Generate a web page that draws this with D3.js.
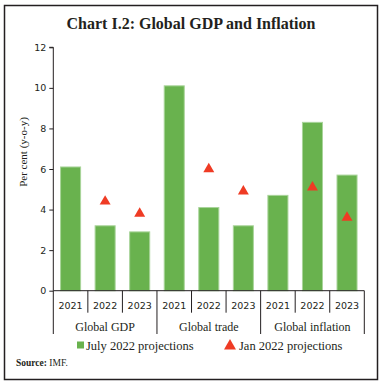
<!DOCTYPE html>
<html><head><meta charset="utf-8">
<script src="https://cdn.jsdelivr.net/npm/d3@7"></script>
<style>html,body{margin:0;padding:0;background:#fff;}svg{display:block;}</style>
</head><body>
<script>
const groups = ["Global GDP", "Global trade", "Global inflation"];
const years = ["2021", "2022", "2023"];
const july2022 = [6.1, 3.2, 2.9, 10.1, 4.1, 3.2, 4.7, 8.3, 5.7];
const jan2022 = [null, 4.4, 3.8, null, 6.0, 4.9, null, 5.1, 3.6];
const yTicks = [0, 2, 4, 6, 8, 10, 12];

const W = 383, H = 384;
const svg = d3.select("body").append("svg").attr("width", W).attr("height", H);
const serif = "'Liberation Serif', 'DejaVu Serif', serif";
const sans = "'DejaVu Sans', Verdana, sans-serif";

svg.append("rect").attr("x", 4.5).attr("y", 5.5).attr("width", 373).attr("height", 374)
  .attr("fill", "none").attr("stroke", "#231f20").attr("stroke-width", 1.5);

svg.append("text").attr("x", 191).attr("y", 29).attr("text-anchor", "middle")
  .attr("font-family", serif).attr("font-weight", "bold").attr("font-size", 16)
  .attr("fill", "#231f20").text("Chart I.2: Global GDP and Inflation");

const x0 = 53.3, x1 = 364.3, yTop = 47.3, yBot = 290.7;
const keys = [];
groups.forEach((g, gi) => years.forEach((yr, yi) => keys.push(gi * 3 + yi)));
const x = d3.scaleBand().domain(keys).range([x0, x1]).paddingInner(0.42).paddingOuter(0.21);
const xb = d3.scaleBand().domain(keys).range([x0, x1]);
const y = d3.scaleLinear().domain([0, 12]).range([yBot, yTop]);

// y axis
const yAxis = svg.append("g").attr("transform", `translate(${x0},0)`)
  .call(d3.axisLeft(y).tickValues(yTicks).tickSize(4).tickPadding(3));
yAxis.select(".domain").attr("stroke", "#231f20").attr("d", `M-4,${yTop}H0V${yBot}`);
yAxis.selectAll(".tick line").attr("stroke", "#231f20");
yAxis.selectAll("text").attr("font-family", sans).attr("font-size", 9.5).attr("fill", "#231f20");

svg.append("text").attr("transform", `translate(27,152) rotate(-90)`)
  .attr("text-anchor", "middle").attr("font-family", serif).attr("font-size", 11)
  .attr("fill", "#231f20").text("Per cent (y-o-y)");

// bars
svg.append("g").selectAll("rect").data(july2022).join("rect")
  .attr("x", (d, i) => x(i)).attr("width", x.bandwidth())
  .attr("y", d => y(d)).attr("height", d => y(0) - y(d))
  .attr("fill", "#69b24e").attr("stroke", "#a9d49a").attr("stroke-width", 1);

// triangles
const tri = d3.symbol().type(d3.symbolTriangle).size(52);
svg.append("g").selectAll("path").data(jan2022.map((v, i) => ({v, i})).filter(d => d.v != null)).join("path")
  .attr("d", tri)
  .attr("transform", d => `translate(${xb(d.i) + xb.bandwidth() / 2},${y(d.v)})`)
  .attr("fill", "#ef3b24");

// x axis baseline
const axisG = svg.append("g").attr("stroke", "#231f20").attr("stroke-width", 1);
axisG.append("line").attr("x1", x0).attr("x2", x1).attr("y1", yBot).attr("y2", yBot);
keys.forEach(i => {
  if (i === 0) return;
  const xx = xb(i);
  const isGroup = i % 3 === 0;
  axisG.append("line").attr("x1", xx).attr("x2", xx).attr("y1", yBot).attr("y2", isGroup ? 334 : 312.7);
});
axisG.append("line").attr("x1", x0).attr("x2", x0).attr("y1", yBot).attr("y2", 334);
axisG.append("line").attr("x1", x1).attr("x2", x1).attr("y1", yBot).attr("y2", 334);

svg.append("g").selectAll("text").data(keys).join("text")
  .attr("x", i => xb(i) + xb.bandwidth() / 2).attr("y", 309)
  .attr("text-anchor", "middle").attr("font-family", sans).attr("font-size", 9.5)
  .attr("fill", "#231f20").text(i => years[i % 3]);

svg.append("g").selectAll("text").data(groups).join("text")
  .attr("x", (g, gi) => xb(gi * 3) + xb.bandwidth() * 1.5).attr("y", 331)
  .attr("text-anchor", "middle").attr("font-family", serif).attr("font-size", 12)
  .attr("fill", "#231f20").text(g => g);

// legend
svg.append("rect").attr("x", 77).attr("y", 341.5).attr("width", 7).attr("height", 7).attr("fill", "#69b24e");
svg.append("text").attr("x", 86).attr("y", 349.5).attr("font-family", serif).attr("font-size", 12.5)
  .attr("fill", "#231f20").text("July 2022 projections");
svg.append("path").attr("d", d3.symbol().type(d3.symbolTriangle).size(62))
  .attr("transform", "translate(230,346)").attr("fill", "#ef3b24");
svg.append("text").attr("x", 239).attr("y", 349.5).attr("font-family", serif).attr("font-size", 12.5)
  .attr("fill", "#231f20").text("Jan 2022 projections");

// source
const src = svg.append("text").attr("x", 16).attr("y", 366).attr("font-family", serif).attr("font-size", 9.5)
  .attr("fill", "#231f20");
src.append("tspan").attr("font-weight", "bold").text("Source:");
src.append("tspan").text(" IMF.");
</script>
</body></html>
